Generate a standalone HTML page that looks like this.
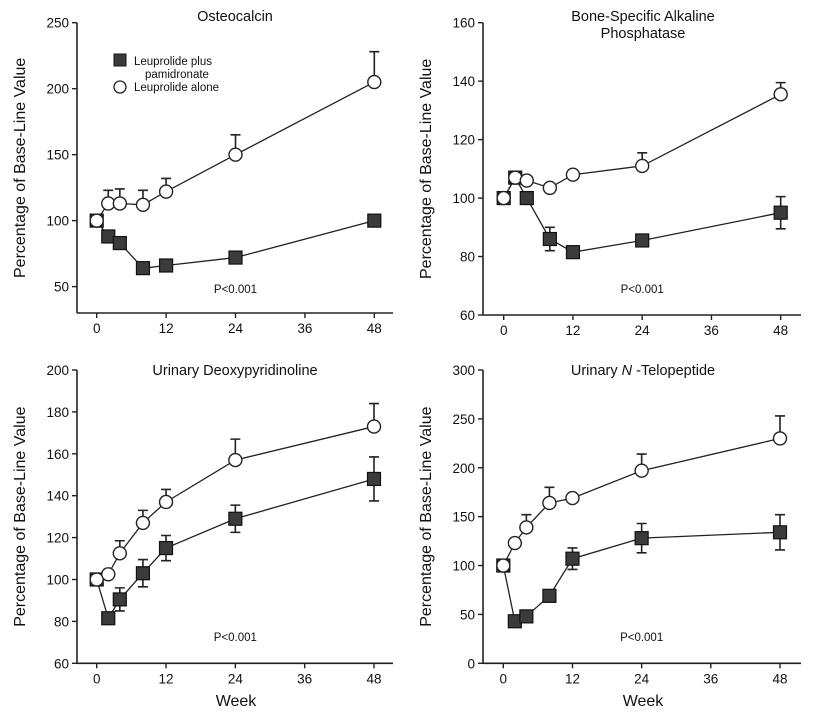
<!DOCTYPE html>
<html><head><meta charset="utf-8"><style>
body{margin:0;background:#fff;}
svg text{font-family:"Liberation Sans",Arial,sans-serif;fill:#111;}
</style></head><body>
<svg id="chart" width="815" height="713" viewBox="0 0 815 713" xmlns="http://www.w3.org/2000/svg"></svg>
<script>
const weeks = [0, 2, 4, 8, 12, 24, 48];
const xTicks = [0, 12, 24, 36, 48];
const titles = ["Osteocalcin", "Bone-Specific Alkaline|Phosphatase", "Urinary Deoxypyridinoline", "Urinary N-Telopeptide"];
const yTicks1 = [50, 100, 150, 200, 250];
const yTicks2 = [60, 80, 100, 120, 140, 160];
const yTicks3 = [60, 80, 100, 120, 140, 160, 180, 200];
const yTicks4 = [0, 50, 100, 150, 200, 250, 300];
const alone1 = [100, 113, 113, 112, 122, 150, 205];
const aloneErr1 = [0, 10, 11, 11, 10, 15, 23];
const pam1 = [100, 88, 83, 64, 66, 72, 100];
const pamErr1 = [0, 0, 0, 0, 0, 0, 0];
const alone2 = [100, 107, 106, 103.5, 108, 111, 135.5];
const aloneErr2 = [0, 0, 0, 0, 0, 4.5, 4];
const pam2 = [100, 107, 100, 86, 81.5, 85.5, 95];
const pamErr2 = [0, 0, 0, 4, 0, 0, 5.5];
const alone3 = [100, 102.5, 112.5, 127, 137, 157, 173];
const aloneErr3 = [0, 0, 6, 6, 6, 10, 11];
const pam3 = [100, 81.5, 90.5, 103, 115, 129, 148];
const pamErr3 = [0, 0, 5.5, 6.5, 6, 6.5, 10.5];
const alone4 = [100, 123, 139, 164, 169, 197, 230];
const aloneErr4 = [0, 0, 13, 16, 0, 17, 23];
const pam4 = [100, 43, 48, 69, 107, 128, 134];
const pamErr4 = [0, 0, 0, 0, 11, 15, 18];

const NS = "http://www.w3.org/2000/svg";
const svg = document.getElementById("chart");
function mk(tag, attrs, parent) {
  const e = document.createElementNS(NS, tag);
  for (const k in attrs) e.setAttribute(k, attrs[k]);
  (parent || svg).appendChild(e);
  return e;
}
const panels = [
  {ox:77, x0:96.7, x48:374.3, yTop:22.7, yBot:313, vTop:250, vBot:30, ticks:yTicks1, alone:alone1, aErr:aloneErr1, pam:pam1, pErr:pamErr1, tx:235, ty:21, py:293, legend:true, week:false, axEnd:393},
  {ox:483, x0:503.7, x48:780.7, yTop:22.7, yBot:315, vTop:160, vBot:60, ticks:yTicks2, alone:alone2, aErr:aloneErr2, pam:pam2, pErr:pamErr2, tx:643, ty:21, py:293, legend:false, week:false, axEnd:801},
  {ox:77, x0:96.7, x48:374, yTop:370, yBot:663.3, vTop:200, vBot:60, ticks:yTicks3, alone:alone3, aErr:aloneErr3, pam:pam3, pErr:pamErr3, tx:235, ty:375, py:641, legend:false, week:true, axEnd:393},
  {ox:483, x0:503.3, x48:780, yTop:370, yBot:663.3, vTop:300, vBot:0, ticks:yTicks4, alone:alone4, aErr:aloneErr4, pam:pam4, pErr:pamErr4, tx:643, ty:375, py:641, legend:false, week:true, axEnd:801}
];
panels.forEach((p, i) => {
  const g = mk("g", {});
  
  
  const X = w => p.x0 + (p.x48 - p.x0) * w / 48;
  const Y = v => p.yBot - (v - p.vBot) * (p.yBot - p.yTop) / (p.vTop - p.vBot);
  const ya = mk("line", {x1:p.ox, y1:p.yTop, x2:p.ox, y2:p.yBot, stroke:"#222", "stroke-width":1.6}, g);
  
  
  const xa = mk("line", {x1:p.ox, y1:p.yBot, x2:p.axEnd, y2:p.yBot, stroke:"#222", "stroke-width":1.6}, g);
  
  
  p.ticks.forEach(v => {
    mk("line", {x1:p.ox - 5, y1:Y(v), x2:p.ox, y2:Y(v), stroke:"#222", "stroke-width":1.4}, g);
    const t = mk("text", {x:p.ox - 8, y:Y(v) + 5, "text-anchor":"end", "font-size":13.5}, g);
    t.textContent = v;
    
    
  });
  xTicks.forEach(w => {
    mk("line", {x1:X(w), y1:p.yBot, x2:X(w), y2:p.yBot + 5, stroke:"#222", "stroke-width":1.4}, g);
    const t = mk("text", {x:X(w), y:p.yBot + 20, "text-anchor":"middle", "font-size":13.5}, g);
    t.textContent = w;
    
    
  });
  const parts = titles[i].split("|");
  parts.forEach((s, k) => {
    const t = mk("text", {x:p.tx, y:p.ty + k * 17, "text-anchor":"middle", "font-size":14.5}, g);
    if (s.indexOf("N-") >= 0) {
      const idx = s.indexOf("N-");
      t.appendChild(document.createTextNode(s.slice(0, idx)));
      const it = mk("tspan", {"font-style":"italic"}, t); it.textContent = "N ";
      t.appendChild(document.createTextNode(s.slice(idx + 1)));
    } else t.textContent = s;
    
    
  });
  const cy = (p.yTop + p.yBot) / 2;
  const yt = mk("text", {x:0, y:0, transform:`translate(${p.ox - 52},${cy}) rotate(-90)`, "text-anchor":"middle", "font-size":16}, g);
  yt.textContent = "Percentage of Base-Line Value";
  
  
  if (p.week) {
    const wt = mk("text", {x:(p.ox + p.axEnd) / 2 + 1, y:706, "text-anchor":"middle", "font-size":16}, g);
    wt.textContent = "Week";
    
    
  }
  const pv = mk("text", {x:X(24), y:p.py, "text-anchor":"middle", "font-size":11.5}, g);
  pv.textContent = "P<0.001";
  
  
  weeks.forEach((w, j) => {
    if (p.pErr[j] > 0) {
      const e = mk("path", {d:`M${X(w)},${Y(p.pam[j]-p.pErr[j])}V${Y(p.pam[j]+p.pErr[j])}M${X(w)-5},${Y(p.pam[j]+p.pErr[j])}h10M${X(w)-5},${Y(p.pam[j]-p.pErr[j])}h10`, stroke:"#222", "stroke-width":1.6, fill:"none"}, g);
      
      
    }
    if (p.aErr[j] > 0) {
      const e = mk("path", {d:`M${X(w)},${Y(p.alone[j])}V${Y(p.alone[j]+p.aErr[j])}M${X(w)-5},${Y(p.alone[j]+p.aErr[j])}h10`, stroke:"#222", "stroke-width":1.6, fill:"none"}, g);
      
      
    }
  });
  const lp = mk("polyline", {points:weeks.map((w, j) => X(w) + "," + Y(p.pam[j])).join(" "), stroke:"#222", "stroke-width":1.3, fill:"none"}, g);
  
  
  const la = mk("polyline", {points:weeks.map((w, j) => X(w) + "," + Y(p.alone[j])).join(" "), stroke:"#222", "stroke-width":1.3, fill:"none"}, g);
  
  
  weeks.forEach((w, j) => {
    const s = mk("rect", {x:X(w) - 6.5, y:Y(p.pam[j]) - 6.5, width:13, height:13, fill:"#3b3b3b", stroke:"#111", "stroke-width":1.2}, g);
    
    
  });
  weeks.forEach((w, j) => {
    const c = mk("circle", {cx:X(w), cy:Y(p.alone[j]), r:6.5, fill:"#fff", stroke:"#222", "stroke-width":1.4}, g);
    
    
  });
  if (p.legend) {
    const lg = mk("g", {}, g);
    
    
    const ls = mk("rect", {x:114, y:54, width:12, height:12, fill:"#3b3b3b", stroke:"#111"}, lg);
    
    
    const t1 = mk("text", {x:134, y:65, "font-size":11.5}, lg); t1.textContent = "Leuprolide plus";
    
    
    const t2 = mk("text", {x:145, y:78, "font-size":11.5}, lg); t2.textContent = "pamidronate";
    
    
    const lc = mk("circle", {cx:120, cy:87, r:6, fill:"#fff", stroke:"#222", "stroke-width":1.3}, lg);
    
    
    const t3 = mk("text", {x:134, y:91, "font-size":11.5}, lg); t3.textContent = "Leuprolide alone";
    
    
  }
});
</script>
</body></html>
